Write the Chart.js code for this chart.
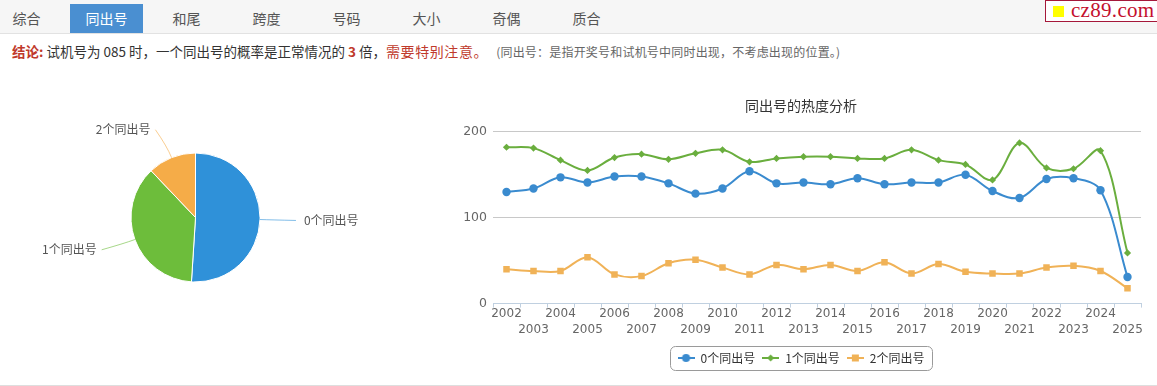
<!DOCTYPE html>
<html>
<head>
<meta charset="utf-8">
<script src="https://cdn.jsdelivr.net/npm/chart.js@4.4.0/dist/chart.umd.min.js"></script>
<style>
  body { margin: 0; width: 1157px; height: 386px; background: #fff; overflow: hidden;
         font-family: "Noto Sans CJK SC", "DejaVu Sans", sans-serif; position: relative; }
  #tabs { position: absolute; left: 0; top: 0; width: 1157px; height: 33px;
          background: #f6f6f6; border-bottom: 1px solid #e2e2e2; }
  .tab { position: absolute; top: 4px; width: 73px; height: 29px; line-height: 29px;
         text-align: center; font-size: 14px; color: #555; }
  .tab.on { background: #4a8fd1; color: #fff; }
  #logo { position: absolute; left: 1045px; top: 0px; width: 112px; height: 20px;
          border: 1px solid #a5183a; border-right: none; background: #fff; }
  #logo i { position: absolute; left: 7px; top: 5px; width: 11px; height: 11px; background: #ffff00; }
  #logo span { position: absolute; left: 25px; top: -3px; font-family: "Liberation Serif", "DejaVu Serif", serif;
               font-size: 21px; color: #c4102e; letter-spacing: 0.3px; }
  #note { position: absolute; left: 12px; top: 41px; font-size: 13.5px; color: #333; white-space: nowrap; }
  #note .red { color: #c0392b; font-size: 14px; letter-spacing: 0.6px; }
  #note b { color: #c0392b; }
  #note small { font-size: 12px; color: #666; margin-left: 8px; letter-spacing: 0.2px; }
  #pieBox { position: absolute; left: 0; top: 88px; width: 440px; height: 260px; }
  #lineBox { position: absolute; left: 440px; top: 88px; width: 717px; height: 296px; }
  #bottom { position: absolute; left: 0; top: 385px; width: 1157px; height: 0; border-top: 1px solid #dedede; }
</style>
</head>
<body>
<div id="tabs">
  <div class="tab" style="left:-10px">综合</div>
  <div class="tab on" style="left:70px">同出号</div>
  <div class="tab" style="left:150px">和尾</div>
  <div class="tab" style="left:230px">跨度</div>
  <div class="tab" style="left:310px">号码</div>
  <div class="tab" style="left:390px">大小</div>
  <div class="tab" style="left:470px">奇偶</div>
  <div class="tab" style="left:550px">质合</div>
</div>
<div id="logo"><i></i><span>cz89.com</span></div>
<div id="note"><b>结论:</b> 试机号为 085 时，一个同出号的概率是正常情况的 <b>3</b> 倍，<span class="red">需要特别注意。</span><small>(同出号：是指开奖号和试机号中同时出现，不考虑出现的位置。)</small></div>
<div id="pieBox"><canvas id="pie"></canvas></div>
<div id="lineBox"><canvas id="line"></canvas></div>
<div id="bottom"></div>
<script>
// pie: share of each count
const pieLabels = ["0个同出号", "1个同出号", "2个同出号"];
const pieValues = [51.0, 36.9, 12.1];

// line: per year counts
const years = ["2002", "2003", "2004", "2005", "2006", "2007", "2008", "2009", "2010", "2011", "2012", "2013",
               "2014", "2015", "2016", "2017", "2018", "2019", "2020", "2021", "2022", "2023", "2024", "2025"];
const zeroSame = [130, 134, 147, 141, 148, 148, 140, 128, 134, 154, 140, 141, 139, 146, 139, 141, 141, 150, 131, 123, 145, 146, 132, 31];
const oneSame  = [182, 181, 167, 155, 170, 174, 168, 175, 179, 165, 169, 171, 171, 169, 169, 179, 167, 162, 144, 187, 158, 157, 178, 59];
const twoSame  = [40, 38, 38, 54, 34, 32, 47, 51, 42, 34, 45, 40, 45, 38, 48, 35, 46, 37, 35, 35, 42, 44, 38, 18];
const yTicks = [0, 100, 200];

const pieColors = ["#2f91d9", "#6dbd3b", "#f5ac48"];
const lineColors = ["#3a8bcf", "#6aae3e", "#f0b257"];
const txtFont = '"DejaVu Sans", "Noto Sans CJK SC", sans-serif';

Chart.defaults.font.family = txtFont;
Chart.defaults.animation = false;

// labels outside the pie with connector lines
const pieLabelPlugin = {
    id: "pieLabels",
    afterDraw(chart) {
        const ctx = chart.ctx;
        const arcs = chart.getDatasetMeta(0).data;
        ctx.save();
        ctx.font = '12px "Noto Sans CJK SC", sans-serif';
        ctx.textBaseline = "middle";
        arcs.forEach(function(arc, i) {
            const mid = (arc.startAngle + arc.endAngle) / 2;
            const cx = Math.cos(mid), cy = Math.sin(mid);
            const r = arc.outerRadius;
            const ex = arc.x + r * cx, ey = arc.y + r * cy;
            const ax = arc.x + (r + 30) * cx, ay = arc.y + (r + 30) * cy;
            const right = cx >= 0;
            const lx = right ? ax + 6 : ax - 5;
            ctx.strokeStyle = pieColors[i];
            ctx.globalAlpha = 0.6;
            ctx.lineWidth = 1;
            ctx.beginPath();
            ctx.moveTo(lx, ay);
            ctx.quadraticCurveTo(arc.x + (r + 12) * cx, arc.y + (r + 12) * cy, ex, ey);
            ctx.stroke();
            ctx.globalAlpha = 1;
            ctx.fillStyle = "#555";
            ctx.textAlign = right ? "left" : "right";
            ctx.fillText(pieLabels[i], right ? lx + 8 : lx - 5, ay);
        });
        ctx.restore();
    }
};

new Chart(document.getElementById("pie"), {
    type: "pie",
    data: {
        labels: pieLabels,
        datasets: [{
            data: pieValues,
            backgroundColor: pieColors,
            borderColor: "#ffffff",
            borderWidth: 1
        }]
    },
    options: {
        responsive: true,
        maintainAspectRatio: false,
        events: [],
        layout: { padding: { left: 0, right: 49, top: 64.5, bottom: 65.5 } },
        plugins: { legend: { display: false }, tooltip: { enabled: false } }
    },
    plugins: [pieLabelPlugin]
});

// legend icon: short line with the series marker on it
function legendIcon(color, style) {
    const c = document.createElement("canvas");
    c.width = 17; c.height = 10;
    const g = c.getContext("2d");
    g.strokeStyle = color; g.fillStyle = color; g.lineWidth = 2;
    g.beginPath(); g.moveTo(0, 5); g.lineTo(17, 5); g.stroke();
    g.beginPath();
    if (style == "circle") {
        g.arc(8.5, 5, 4, 0, Math.PI * 2);
    } else if (style == "rectRot") {
        g.moveTo(8.5, 1.5); g.lineTo(12, 5); g.lineTo(8.5, 8.5); g.lineTo(5, 5);
    } else {
        g.rect(5, 1.5, 7, 7);
    }
    g.fill();
    return c;
}

// rounded border round the legend
const legendBoxPlugin = {
    id: "legendBox",
    afterDraw(chart) {
        const boxes = chart.legend.legendHitBoxes;
        if (!boxes.length) return;
        let l = 1e9, r = -1e9, t = 1e9, b = -1e9;
        boxes.forEach(function(h) {
            l = Math.min(l, h.left); r = Math.max(r, h.left + h.width);
            t = Math.min(t, h.top); b = Math.max(b, h.top + h.height);
        });
        const ctx = chart.ctx;
        ctx.save();
        ctx.strokeStyle = "#9a9a9a";
        ctx.lineWidth = 1;
        ctx.beginPath();
        ctx.roundRect(Math.round(l - 8) + 0.5, Math.round(t - 6) + 0.5, Math.round(r - l + 15), Math.round(b - t + 12), 5);
        ctx.stroke();
        ctx.restore();
    }
};

const series = [
    { label: "0个同出号", data: zeroSame, style: "circle", radius: 4.2 },
    { label: "1个同出号", data: oneSame, style: "rectRot", radius: 3.6 },
    { label: "2个同出号", data: twoSame, style: "rect", radius: 4.6 }
];

new Chart(document.getElementById("line"), {
    type: "line",
    data: {
        labels: years,
        datasets: series.map(function(s, i) {
            return {
                label: s.label,
                data: s.data,
                borderColor: lineColors[i],
                backgroundColor: lineColors[i],
                borderWidth: 2,
                tension: 0.35,
                pointStyle: s.style,
                pointRadius: s.radius,
                pointBorderWidth: 0
            };
        })
    },
    options: {
        responsive: true,
        maintainAspectRatio: false,
        events: [],
        layout: { padding: { left: 21, right: 16, top: 0, bottom: 10 } },
        scales: {
            x: {
                offset: true,
                afterFit: function(s) { s.height += 9; },
                border: { color: "#c0d0e0" },
                grid: { offset: true, drawOnChartArea: false, drawTicks: true, tickLength: 4, color: "#c0d0e0" },
                ticks: {
                    autoSkip: false, maxRotation: 0, padding: -2, color: "#666",
                    font: { size: 12, lineHeight: 1.35 },
                    callback: function(v, i) {
                        return i % 2 == 0 ? [years[i], ""] : ["", years[i]];
                    }
                }
            },
            y: {
                min: 0, max: 200,
                afterFit: function(s) { s.width = 32; },
                afterBuildTicks: function(s) { s.ticks = yTicks.map(function(v) { return { value: v }; }); },
                border: { display: false },
                grid: { color: "#c8c8c8", drawTicks: false },
                ticks: { color: "#666", padding: 6, font: { size: 12.5 } }
            }
        },
        plugins: {
            tooltip: { enabled: false },
            title: {
                display: true,
                text: "同出号的热度分析",
                color: "#333",
                font: { size: 14, weight: "normal", family: '"Noto Sans CJK SC", sans-serif' },
                padding: { top: 9, bottom: 18 }
            },
            legend: {
                position: "bottom",
                labels: {
                    usePointStyle: true,
                    pointStyleWidth: 17,
                    padding: 7,
                    color: "#333",
                    font: { size: 12, family: '"Noto Sans CJK SC", sans-serif' },
                    generateLabels: function(chart) {
                        const items = Chart.defaults.plugins.legend.labels.generateLabels(chart);
                        items.forEach(function(it, i) {
                            it.pointStyle = legendIcon(lineColors[i], series[i].style);
                        });
                        return items;
                    }
                }
            }
        }
    },
    plugins: [legendBoxPlugin]
});
</script>
</body>
</html>
